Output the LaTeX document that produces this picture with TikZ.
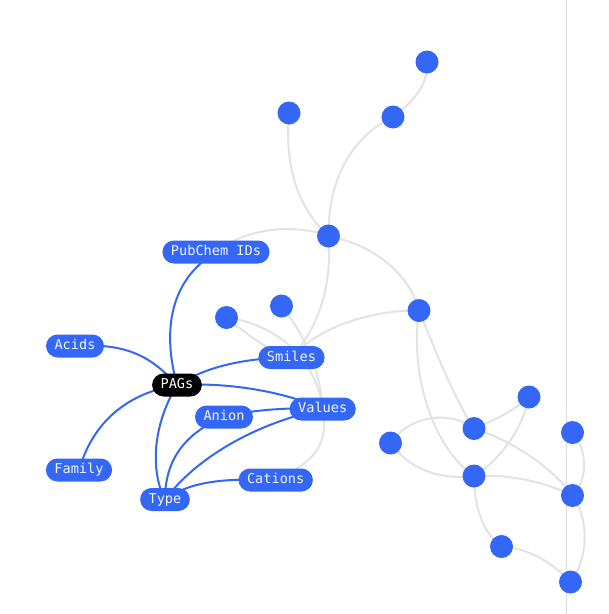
\documentclass[tikz,border=0pt]{standalone}
\usepackage{fontspec}
\setmonofont{DejaVu Sans Mono}
\definecolor{nodeblue}{HTML}{3467F6}
\definecolor{edgegray}{HTML}{E2E3E8}
\definecolor{rulegray}{HTML}{DCDCE0}
\definecolor{labeltext}{HTML}{F2F5FF}
\pgfdeclarelayer{paper}
\pgfdeclarelayer{grayedges}
\pgfdeclarelayer{blueedges}
\pgfsetlayers{paper,grayedges,blueedges,main}
\tikzset{
  dot/.style={circle, fill=nodeblue, minimum size=23pt, inner sep=0pt},
  lbl/.style={rectangle, rounded corners=11.5pt, fill=nodeblue, text=labeltext,
    minimum height=23pt, inner xsep=8.5pt, inner ysep=0pt,
    font=\fontsize{13.6}{16}\selectfont\ttfamily, text height=0.75em, text depth=0.05em},
  rootlbl/.style={lbl, fill=black, text=white},
  gedge/.style={draw=edgegray, line width=2pt},
  bedge/.style={draw=nodeblue, line width=2pt},
}
\begin{document}
\begin{tikzpicture}[x=1pt, y=-1pt]
\useasboundingbox (0,0) rectangle (609,614);
\begin{pgfonlayer}{paper}
\fill[white] (0,0) rectangle (609,614);
\end{pgfonlayer}

% labelled nodes
\node[lbl] (pub) at (216,252) {PubChem IDs};
\node[lbl] (acids) at (75,346) {Acids};
\node[rootlbl] (pags) at (177,385) {PAGs};
\node[lbl] (smiles) at (291.5,357.5) {Smiles};
\node[lbl] (values) at (322.7,409) {Values};
\node[lbl] (anion) at (224,417) {Anion};
\node[lbl] (family) at (79,470) {Family};
\node[lbl] (type) at (165,499.5) {Type};
\node[lbl] (cations) at (275.7,480) {Cations};

% dots
\node[dot] (d1) at (427,62) {};
\node[dot] (d2) at (289,113) {};
\node[dot] (d3) at (393,117) {};
\node[dot] (d4) at (328.5,236) {};
\node[dot] (d5) at (419,310.5) {};
\node[dot] (d6) at (281.5,306) {};
\node[dot] (d7) at (226.5,317.5) {};
\node[dot] (d8) at (529,397) {};
\node[dot] (d9) at (474,428.5) {};
\node[dot] (d10) at (390.5,443) {};
\node[dot] (d11) at (572.5,432.5) {};
\node[dot] (d12) at (474,476) {};
\node[dot] (d13) at (572.5,495.5) {};
\node[dot] (d14) at (501.5,546.5) {};
\node[dot] (d15) at (570.5,582) {};

\begin{pgfonlayer}{grayedges}
\coordinate (rtop) at (566.7,0);
\coordinate (rbot) at (566.7,614);
\draw[rulegray, line width=1pt] (rtop) -- (rbot);
\path[gedge] (d1.center) .. controls (428,85) and (415,100) .. (d3.center);
\path[gedge] (d3.center) .. controls (355,135) and (328,175) .. (d4.center);
\path[gedge] (d2.center) .. controls (284,170) and (300,210) .. (d4.center);
\path[gedge] (pub.center) .. controls (250,225) and (300,225) .. (d4.center);
\path[gedge] (d4.center) .. controls (375,245) and (410,275) .. (d5.center);
\path[gedge] (d4.center) .. controls (332,285) and (320,325) .. (smiles.center);
\path[gedge] (d5.center) .. controls (375,310) and (320,325) .. (smiles.center);
\path[gedge] (d6.center) .. controls (305,335) and (320,370) .. (values.center);
\path[gedge] (values.center) .. controls (328,440) and (320,460) .. (cations.center);
\path[gedge] (d7.center) .. controls (265,322) and (315,350) .. (values.center);
\path[gedge] (d7.center) .. controls (245,332) and (265,350) .. (smiles.center);
\path[gedge] (d5.center) .. controls (410,370) and (430,445) .. (d12.center);
\path[gedge] (d5.center) .. controls (435,350) and (455,400) .. (d9.center);
\path[gedge] (d10.center) .. controls (410,415) and (450,410) .. (d9.center);
\path[gedge] (d10.center) .. controls (410,470) and (440,480) .. (d12.center);
\path[gedge] (d9.center) .. controls (495,420) and (515,410) .. (d8.center);
\path[gedge] (d8.center) .. controls (522,430) and (500,460) .. (d12.center);
\path[gedge] (d9.center) .. controls (510,440) and (550,465) .. (d13.center);
\path[gedge] (d12.center) .. controls (510,474) and (545,482) .. (d13.center);
\path[gedge] (d12.center) .. controls (474,510) and (485,535) .. (d14.center);
\path[gedge] (d14.center) .. controls (530,548) and (555,565) .. (d15.center);
\path[gedge] (d11.center) .. controls (588,450) and (588,480) .. (d13.center);
\path[gedge] (d13.center) .. controls (590,520) and (588,560) .. (d15.center);
\end{pgfonlayer}

\begin{pgfonlayer}{blueedges}
\path[bedge] (pags.center) .. controls (162,330) and (170,280) .. (pub.center);
\path[bedge] (pags.center) .. controls (150,355) and (125,343) .. (acids.center);
\path[bedge] (pags.center) .. controls (205,368) and (240,358) .. (smiles.center);
\path[bedge] (pags.center) .. controls (230,382) and (285,392) .. (values.center);
\path[bedge] (pags.center) .. controls (135,392) and (95,415) .. (family.center);
\path[bedge] (pags.center) .. controls (150,430) and (152,475) .. (type.center);
\path[bedge] (type.center) .. controls (165,465) and (180,435) .. (anion.center);
\path[bedge] (type.center) .. controls (195,460) and (250,425) .. (values.center);
\path[bedge] (type.center) .. controls (190,482) and (220,478) .. (cations.center);
\path[bedge] (anion.center) .. controls (250,410) and (290,407) .. (values.center);
\end{pgfonlayer}
\end{tikzpicture}
\end{document}
